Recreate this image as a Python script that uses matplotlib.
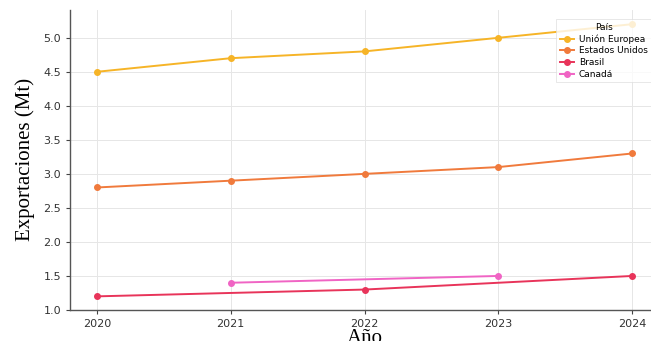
import numpy as np
import matplotlib
matplotlib.use("Agg")
from matplotlib import pyplot as plt

# datos
anios_ue = [2020, 2021, 2022, 2023, 2024]
ue = [4.5, 4.7, 4.8, 5.0, 5.2]
anios_eeuu = [2020, 2021, 2022, 2023, 2024]
eeuu = [2.8, 2.9, 3.0, 3.1, 3.3]
anios_br = [2020, 2022, 2024]
brasil = [1.2, 1.3, 1.5]
anios_ca = [2021, 2023]
canada = [1.4, 1.5]

series = ["Unión Europea", "Estados Unidos", "Brasil", "Canadá"]
colores = ["#f6b427", "#f07a3c", "#e8345a", "#f064c4"]

fig = plt.figure(figsize=(6.51, 3.41), dpi=100)
ax = fig.add_axes([0.1075, 0.091, 0.905, 0.88])

for xs, ys, nom, c in zip([anios_ue, anios_eeuu, anios_br, anios_ca],
                          [ue, eeuu, brasil, canada], series, colores):
    ax.plot(xs, ys, color=c, marker="o", markersize=4, linewidth=1.4, label=nom)

ax.set_xlim(2019.8, 2024.2)
ax.set_ylim(1.0, 5.41)
ax.set_xticks([2020, 2021, 2022, 2023, 2024])
ax.set_yticks(np.arange(1.0, 5.01, 0.5))
ax.set_yticklabels(["%.1f" % v for v in np.arange(1.0, 5.01, 0.5)])
ax.tick_params(labelsize=8, colors="#444444", length=3, width=0.8)
for lbl in ax.get_xticklabels() + ax.get_yticklabels():
    lbl.set_color("#333333")
ax.grid(True, color="#e6e6e6", linewidth=0.7)
ax.set_axisbelow(True)
for s in ["top", "right"]:
    ax.spines[s].set_visible(False)
for s in ["left", "bottom"]:
    ax.spines[s].set_color("#555555")
    ax.spines[s].set_linewidth(1.0)

ax.set_ylabel("Exportaciones (Mt)", family="Liberation Serif", fontsize=15, labelpad=6)
ax.set_xlabel("Año", family="Liberation Serif", fontsize=15, labelpad=0)

leg = ax.legend(title="País", loc="upper left", bbox_to_anchor=(0.818, 0.985),
                fontsize=6.5, title_fontsize=6.5, frameon=True, handlelength=1.6,
                handletextpad=0.5, borderpad=0.4, labelspacing=0.3, fancybox=False)
leg.get_frame().set_edgecolor("#dddddd")
leg.get_frame().set_linewidth(0.6)

fig.savefig("out.png", dpi=100)
